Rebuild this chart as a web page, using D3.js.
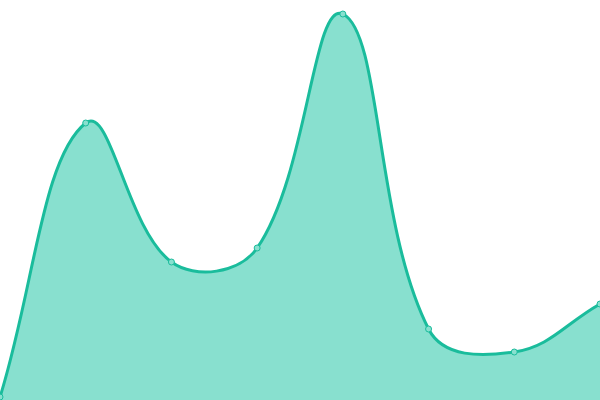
<!DOCTYPE html>
<html><head><meta charset="utf-8">
<script src="https://cdn.jsdelivr.net/npm/d3@7"></script>
<style>html,body{margin:0;padding:0;background:#fff;}svg{display:block;}</style>
</head><body>
<svg id="c" width="600" height="400"></svg>
<script>
const categories = ["A","B","C","D","E","F","G","H"];
const values = [3, 277, 138, 152, 386, 71, 48, 96];

const W = 600, H = 400;
const svg = d3.select("#c");
const x = d3.scalePoint().domain(categories).range([0, W]);
const y = d3.scaleLinear().domain([0, 400]).range([H, 0]);
const data = categories.map((c, i) => ({c, v: values[i]}));

// Tension-based spline curve (control points scaled by neighbour distances)
function SplineCurve(context, t) { this._context = context; this._t = t; }
SplineCurve.prototype = {
  areaStart() { this._line = 0; },
  areaEnd() { this._line = NaN; },
  lineStart() { this._pts = []; },
  point(px, py) { this._pts.push([+px, +py]); },
  lineEnd() {
    const p = this._pts, n = p.length, ctx = this._context, t = this._t;
    if (n) {
      if (this._line) ctx.lineTo(p[0][0], p[0][1]); else ctx.moveTo(p[0][0], p[0][1]);
      const cps = p.map((cur, i) => {
        const prev = p[i - 1] || cur, next = p[i + 1] || cur;
        const d01 = Math.hypot(cur[0] - prev[0], cur[1] - prev[1]);
        const d12 = Math.hypot(next[0] - cur[0], next[1] - cur[1]);
        let s01 = d01 / (d01 + d12), s12 = d12 / (d01 + d12);
        if (!isFinite(s01)) s01 = 0; if (!isFinite(s12)) s12 = 0;
        const fa = t * s01, fb = t * s12;
        const clampX = v => Math.max(0, Math.min(W, v));
        const clampY = v => Math.max(0, Math.min(H, v));
        return {
          prev: [clampX(cur[0] - fa * (next[0] - prev[0])), clampY(cur[1] - fa * (next[1] - prev[1]))],
          next: [clampX(cur[0] + fb * (next[0] - prev[0])), clampY(cur[1] + fb * (next[1] - prev[1]))]
        };
      });
      for (let i = 1; i < n; i++) {
        const c1 = cps[i - 1].next, c2 = cps[i].prev;
        ctx.bezierCurveTo(c1[0], c1[1], c2[0], c2[1], p[i][0], p[i][1]);
      }
    }
    if (this._line || (this._line !== 0 && n === 1)) ctx.closePath();
    this._line = 1 - this._line;
  }
};
const curve = ctx => new SplineCurve(ctx, 0.4);

svg.append("path").datum(data)
  .attr("d", d3.area().x(d => x(d.c)).y0(H).y1(d => y(d.v)).curve(curve))
  .attr("fill", "#88e0cf");
svg.append("path").datum(data)
  .attr("d", d3.line().x(d => x(d.c)).y(d => y(d.v)).curve(curve))
  .attr("fill", "none").attr("stroke", "#1abc9c").attr("stroke-width", 3);
svg.selectAll("circle").data(data).enter().append("circle")
  .attr("cx", d => x(d.c)).attr("cy", d => y(d.v)).attr("r", 3)
  .attr("fill", "#88e0cf").attr("stroke", "#1abc9c").attr("stroke-width", 1);
</script>
</body></html>
